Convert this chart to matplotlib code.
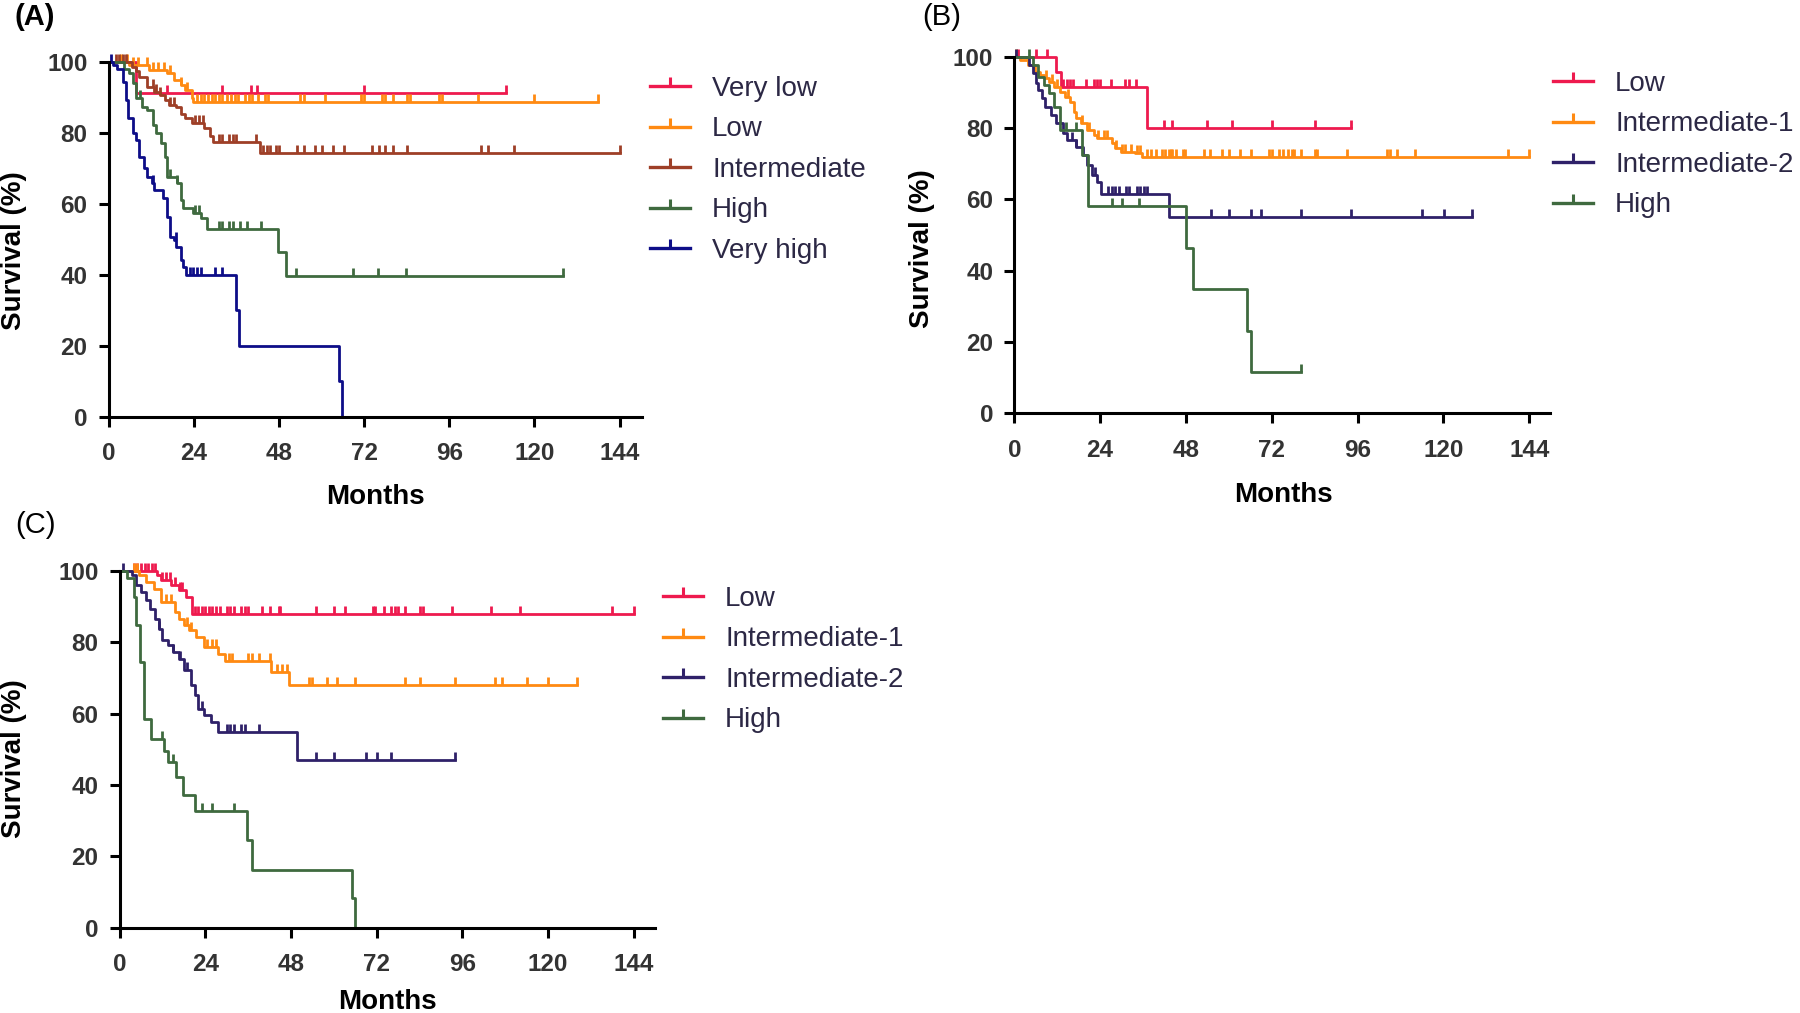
import numpy as np
import matplotlib
matplotlib.use("Agg")
import matplotlib.pyplot as plt
from matplotlib.path import Path
from matplotlib.lines import Line2D

plt.rcParams['font.family'] = ['Liberation Sans', 'DejaVu Sans']

# ---------------- data (months, survival %) ----------------
x_ticks = [0, 24, 48, 72, 96, 120, 144]
y_ticks = [0, 20, 40, 60, 80, 100]

# Panel A
a_labels = ['Very low', 'Low', 'Intermediate', 'High', 'Very high']

a_vlow_t = [7.8]
a_vlow_s = [91.1]
a_vlow_c = [16.5, 32, 40, 41.7, 72, 112]

a_low_t = [5.8, 11.4, 16.4, 18.4, 20.4, 21.4, 23.4, 23.9]
a_low_s = [99, 97.7, 96.7, 94.8, 93.4, 92, 89.7, 88.7]
a_low_c = [3.6, 5.2, 6.8, 8.4, 10.8, 12.4, 14, 15.7, 17.3, 20.5, 22.1, 24.9, 26, 27, 28, 29,
           30, 31, 32, 33.5, 34.5, 35.5, 36.5, 38.5, 39.5, 40.5, 42, 44, 45, 54, 55, 61, 71,
           72, 77, 78, 80, 84, 85, 93, 94, 104, 120, 138]

a_int_t = [6.5, 7.8, 8.5, 10.9, 12.9, 14.4, 15.9, 16.9, 18.9, 20.4, 21.4, 23.4, 26.9, 28.5, 29.5, 42.6]
a_int_s = [98.5, 97.5, 95.8, 93, 91.5, 90.6, 89.2, 87.8, 87.3, 85.4, 84, 82.6, 81.2, 79, 77.5, 74.4]
a_int_c = [2, 3, 4, 5, 12.4, 13.4, 14.4, 17.4, 18.4, 24.4, 25.5, 26.5, 31, 32, 34, 35, 36, 41.5,
           43.6, 44.6, 45.6, 47.1, 48.1, 53.1, 55.1, 58.1, 60.2, 63.2, 66.2, 74.2, 76.3, 77.8,
           80.1, 84.1, 104.9, 106.9, 114.3, 144]

a_high_t = [4.3, 5.8, 6.8, 7.6, 9.4, 10.9, 12.4, 13.4, 14.9, 15.9, 16.4, 19.4, 20.4, 21.1, 23.9,
            26, 27.8, 47.6, 49.9]
a_high_s = [98, 96.7, 93.9, 89.7, 87.3, 86.4, 82.2, 79.8, 77, 73.2, 67.6, 65.7, 61, 58.7, 57.3,
            55.9, 53, 46.5, 39.6]
a_high_c = [8.8, 17.4, 19.4, 24.4, 25.5, 31, 32, 34, 35, 37, 39, 43, 52.9, 69, 76, 83.9, 128]

a_vhigh_t = [1.3, 2.3, 4, 4.8, 5.6, 6.8, 7.6, 8.7, 9.9, 10.9, 12.1, 12.9, 15.4, 16.4, 17.4, 18.4,
             19.1, 20.4, 21.1, 21.9, 35.8, 36.8, 64.9, 65.9]
a_vhigh_s = [99, 98, 94.4, 89.2, 84, 79.8, 77.9, 73.2, 70, 67.6, 65.7, 63.8, 61.5, 56.3, 50.7,
             49.8, 47.9, 44.1, 42.3, 40, 30, 20, 10, 0]
a_vhigh_c = [0.8, 12.5, 19, 22.9, 23.9, 24.9, 26, 30, 32]

# Panel B
b_labels = ['Low', 'Intermediate-1', 'Intermediate-2', 'High']

b_low_t = [11.7, 13, 37.2]
b_low_s = [95.8, 91.6, 80.1]
b_low_c = [1, 6, 9.2, 13.7, 14.7, 15.7, 16.4, 20, 22.2, 23.2, 24, 27, 31, 32, 34, 42, 44, 54,
           61, 72, 84, 94.1]

b_int1_t = [1.7, 3.7, 5.7, 7.2, 8.2, 9.7, 11.2, 12.7, 14.2, 15.7, 16.7, 17.2, 18.7, 20.2, 22.2,
            23.2, 27.2, 28.2, 29.7, 33.7, 35.7]
b_int1_s = [99, 97.7, 95.8, 94.9, 93.9, 93, 91.6, 90.2, 88.8, 87.4, 84.6, 82.7, 81.3, 79.4, 78,
            77.1, 75.7, 74.3, 73.4, 72.9, 72]
b_int1_c = [0.5, 9, 10.5, 12, 15, 19, 21, 23.5, 25, 26, 28.5, 30, 31, 32.5, 34.2, 35.2, 37.2,
            38.2, 39.7, 41.2, 42.2, 43.2, 43.7, 44.2, 45.2, 47.2, 47.7, 53.1, 54.6, 58.1, 60.1,
            63.1, 66.1, 71.1, 72.1, 74.1, 75.1, 76.6, 77.6, 78.1, 80.1, 84.1, 84.6, 93.1, 104.1,
            105.1, 107.1, 112.1, 138.1, 144]

b_int2_t = [4.2, 5.2, 6, 6.7, 7.7, 8.7, 10.2, 11.7, 13.7, 14.7, 17.2, 19.2, 20.2, 21.7, 23, 24.2,
            43.2]
b_int2_s = [97.7, 95.3, 92.5, 90.7, 88.3, 86, 83.6, 81.3, 78.5, 76.6, 74.8, 72.4, 69.6, 66.8, 65,
            61.5, 55.1]
b_int2_c = [0.5, 16.2, 17.2, 22.5, 26.2, 27.2, 28.2, 29.2, 31.2, 32.2, 34.2, 35.2, 36.2, 37.2,
            55.1, 60.1, 66.1, 69.1, 80.1, 94.1, 114.1, 120.1, 128.1]

b_high_t = [5.2, 6.7, 8.2, 9.7, 11.2, 12.7, 19, 20.7, 48, 50, 65.1, 66.1]
b_high_s = [97.7, 94.4, 92, 89.7, 86, 79.4, 72.4, 58.2, 46.3, 34.8, 23.1, 11.5]
b_high_c = [4.2, 14.5, 17.2, 27.2, 30.2, 35, 80.1]

# Panel C
c_labels = ['Low', 'Intermediate-1', 'Intermediate-2', 'High']

c_low_t = [10.5, 11.5, 14.5, 16.5, 18.5, 20.3]
c_low_s = [98.8, 97.4, 96, 94.6, 92.7, 88]
c_low_c = [4, 5, 6, 7, 8, 9, 10, 12, 13, 14, 15.5, 17, 17.5, 21, 22, 23, 24, 25, 26, 27, 28, 30,
           31, 32, 34, 35, 36, 40, 42, 44.5, 45, 55, 60, 63, 71, 71.5, 74, 76, 77, 78, 80, 84,
           85, 93, 104, 112, 138, 144]

c_int1_t = [5.5, 7.5, 9.5, 11.5, 15.5, 16.5, 18, 19.5, 21.5, 23.5, 27.5, 29.5, 42.5, 47.5]
c_int1_s = [98.8, 96.9, 95, 91.3, 88.5, 86.6, 84.8, 83.4, 81.5, 78.7, 76.8, 74.7, 71.7, 68]
c_int1_c = [4, 5, 13, 14.5, 19, 20, 24.5, 26, 27, 30.5, 31.5, 36, 37, 39, 42, 44, 45.5, 47, 53,
            54, 58, 61, 66, 80, 84, 94, 105, 107, 114, 120, 128]

c_int2_t = [3.5, 4.5, 6, 7.5, 8.5, 10, 11, 12, 13.5, 15, 16.5, 18, 20, 21, 22, 23.5, 25.5, 27.5,
            49.8]
c_int2_s = [98.8, 96, 94.1, 91.8, 89.4, 86.6, 83.8, 80.6, 79.2, 77.3, 75.4, 72.2, 68, 65.2,
            61.4, 59.6, 57.7, 54.7, 47]
c_int2_c = [1, 11, 15, 17, 19, 23, 30, 31, 32, 34, 35, 39, 55, 60, 69, 72, 76, 94]

c_high_t = [2, 4, 4.7, 5.7, 6.7, 8.7, 12.5, 13.5, 15.7, 17.8, 21, 35.8, 37, 65, 65.8]
c_high_s = [97.9, 92.7, 84.8, 74.5, 58.4, 52.8, 49.5, 46.3, 42.3, 37.3, 32.7, 24.6, 16.3, 8.2, 0]
c_high_c = [12, 15, 23, 26, 32]

# ---------------- style ----------------
RED = '#ee1a4e'
ORANGE = '#ff8a12'
BROWN = '#9e3f27'
GREEN = '#3f6a3f'
NAVY = '#0d0d88'
PURPLE = '#2f2169'
TEXT_LEGEND = '#2c2845'

TICK = Path([(0, 0), (0, 1)], [Path.MOVETO, Path.LINETO])
LW = 2.0

W, H = 1800, 1013
fig = plt.figure(figsize=(W / 100, H / 100), dpi=100)


def add_axes(left_px, top_px, right_px, bottom_px, px_per_month):
    ax = fig.add_axes([left_px / W, 1 - bottom_px / H, (right_px - left_px) / W,
                       (bottom_px - top_px) / H])
    ax.set_xlim(0, (right_px - left_px) / px_per_month)
    ax.set_ylim(0, 100)
    ax.set_xticks(x_ticks, labels=[str(v) for v in x_ticks], fontweight='bold')
    ax.set_yticks(y_ticks, labels=[str(v) for v in y_ticks], fontweight='bold')
    for s in ['top', 'right']:
        ax.spines[s].set_visible(False)
    for s in ['left', 'bottom']:
        ax.spines[s].set_linewidth(2.2)
    ax.tick_params(width=2.2, length=7.2, labelsize=17.5, labelcolor='#333333')
    ax.tick_params(axis='x', pad=11)
    ax.tick_params(axis='y', pad=8)
    return ax


def km(ax, times, surv, cens, color, label):
    t = np.r_[0, times]
    s = np.r_[100, surv]
    end = max(cens) if surv[-1] > 0 else times[-1]
    ax.step(np.r_[t, end], np.r_[s, s[-1]], where='post', color=color, lw=LW, clip_on=False)
    idx = np.searchsorted(times, cens, side='right')
    ax.plot(cens, s[idx], ls='none', marker=TICK, ms=11, mew=LW, color=color, clip_on=False)
    return Line2D([], [], color=color, lw=2.4, marker=TICK, ms=13, mew=2.2, label=label)


def add_legend(ax, handles, left_px, top_px):
    ax.legend(handles=handles, loc='upper left', bbox_to_anchor=(left_px / W, 1 - top_px / H),
              bbox_transform=fig.transFigure, frameon=False, fontsize=20, borderpad=0,
              borderaxespad=0, handlelength=1.44, handletextpad=0.8, labelspacing=0.52,
              labelcolor=TEXT_LEGEND, numpoints=1)


def labels(ax, xlab_xy, ylab_xy):
    ax.set_xlabel('Months', fontsize=20, fontweight='bold', va='center')
    ax.xaxis.set_label_coords(*xlab_xy)
    ax.set_ylabel('Survival (%)', fontsize=20, fontweight='bold', va='center')
    ax.yaxis.set_label_coords(*ylab_xy)


# Panel A
axA = add_axes(108.6, 61.7, 641.8, 416.7, 3.549)
hA = [km(axA, a_vlow_t, a_vlow_s, a_vlow_c, RED, a_labels[0]),
      km(axA, a_low_t, a_low_s, a_low_c, ORANGE, a_labels[1]),
      km(axA, a_int_t, a_int_s, a_int_c, BROWN, a_labels[2]),
      km(axA, a_high_t, a_high_s, a_high_c, GREEN, a_labels[3]),
      km(axA, a_vhigh_t, a_vhigh_s, a_vhigh_c, NAVY, a_labels[4])]
add_legend(axA, hA, 650, 76)
labels(axA, (0.4996, -0.226), (-0.177, 0.467))

# Panel B
axB = add_axes(1014.3, 56.7, 1550, 413.3, 3.576)
hB = [km(axB, b_low_t, b_low_s, b_low_c, RED, b_labels[0]),
      km(axB, b_int1_t, b_int1_s, b_int1_c, ORANGE, b_labels[1]),
      km(axB, b_int2_t, b_int2_s, b_int2_c, PURPLE, b_labels[2]),
      km(axB, b_high_t, b_high_s, b_high_c, GREEN, b_labels[3])]
add_legend(axB, hB, 1553, 71)
labels(axB, (0.5025, -0.228), (-0.172, 0.461))

# Panel C
axC = add_axes(119.6, 570.7, 655, 927.7, 3.571)
hC = [km(axC, c_low_t, c_low_s, c_low_c, RED, c_labels[0]),
      km(axC, c_int1_t, c_int1_s, c_int1_c, ORANGE, c_labels[1]),
      km(axC, c_int2_t, c_int2_s, c_int2_c, PURPLE, c_labels[2]),
      km(axC, c_high_t, c_high_s, c_high_c, GREEN, c_labels[3])]
add_legend(axC, hC, 663, 586)
labels(axC, (0.501, -0.208), (-0.197, 0.475))

# panel letters
fig.text(14 / W, 1 - 3 / H, '(A)', fontsize=21, fontweight='bold', ha='left', va='top')
fig.text(922 / W, 1 - 3 / H, '(B)', fontsize=21, ha='left', va='top')
fig.text(15 / W, 1 - 511 / H, '(C)', fontsize=21, ha='left', va='top')

fig.savefig('out.png', dpi=100)
